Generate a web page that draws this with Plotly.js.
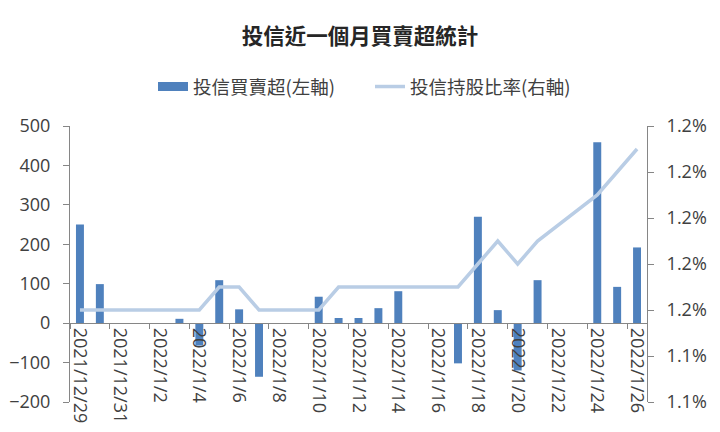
<!DOCTYPE html>
<html>
<head>
<meta charset="utf-8">
<script src="https://cdn.plot.ly/plotly-3.0.1.min.js"></script>
<style>
  html, body { margin: 0; padding: 0; background: #fff; }
  #grafico { width: 720px; height: 432px; }
</style>
</head>
<body>
<div id="grafico"></div>
<script>
// fechas de negociación (sin fines de semana ni feriados)
const fechas = ['2021-12-29', '2021-12-30', '2022-01-03', '2022-01-04', '2022-01-05',
    '2022-01-06', '2022-01-07', '2022-01-10', '2022-01-11', '2022-01-12',
    '2022-01-13', '2022-01-14', '2022-01-17', '2022-01-18', '2022-01-19',
    '2022-01-20', '2022-01-21', '2022-01-24', '2022-01-25', '2022-01-26'];

// 投信買賣超 (張)
const compraVentaNeta = [250, 99, 11, -57, 109, 35, -136, 67, 13, 13,
    38, 81, -102, 270, 33, -120, 109, 459, 92, 192];

// 投信持股比率 (%)
const tenencia = [1.150, 1.150, 1.150, 1.150, 1.155, 1.155, 1.150, 1.150, 1.155, 1.155,
    1.155, 1.155, 1.155, 1.160, 1.165, 1.160, 1.165, 1.175, 1.180, 1.185];

// eje derecho
const ticksDerecha = [1.13, 1.14, 1.15, 1.16, 1.17, 1.18, 1.19];
const etiquetasDerecha = ['1.1%', '1.1%', '1.2%', '1.2%', '1.2%', '1.2%', '1.2%'];

const fuente = '"Noto Sans CJK TC", "Noto Sans", sans-serif';
const fuenteNum = '"Open Sans", "Noto Sans CJK TC", sans-serif';
const gris = '#868686';
const azul = '#4F81BD';
const unDia = 864e5;

var trace1 = {
    x: fechas,
    y: compraVentaNeta,
    type: 'bar',
    name: '投信買賣超(左軸)',
    width: 0.4 * unDia,
    marker: { color: azul },
    showlegend: false,
    yaxis: 'y'
};

// solo para la leyenda: rectángulo ancho como en Excel
var traceLeyenda = {
    x: [null],
    y: [null],
    type: 'scatter',
    mode: 'lines',
    name: '投信買賣超(左軸)',
    line: { color: azul, width: 9 },
    yaxis: 'y'
};

var trace2 = {
    x: fechas,
    y: tenencia,
    type: 'scatter',
    mode: 'lines',
    name: '投信持股比率(右軸)',
    line: { color: '#B9CDE5', width: 3.5 },
    yaxis: 'y2'
};

var layout = {
    width: 720,
    height: 432,
    margin: { l: 70, r: 73, t: 126, b: 30 },
    paper_bgcolor: '#fff',
    plot_bgcolor: '#fff',
    font: { family: fuente, color: '#404040', size: 17 },
    showlegend: true,
    title: {
        text: '<b>投信近一個月買賣超統計</b>',
        font: { family: fuente, size: 21.5, color: '#262626' },
        x: 0.5, xref: 'container', xanchor: 'center',
        y: 1 - 36 / 432, yref: 'container', yanchor: 'middle'
    },
    legend: {
        orientation: 'h',
        xref: 'container', x: 153 / 720, xanchor: 'left',
        yref: 'container', y: 1 - 87 / 432, yanchor: 'middle',
        font: { family: fuente, size: 18.5, color: '#404040' },
        traceorder: 'normal',
        entrywidth: 172
    },
    xaxis: {
        type: 'date',
        range: ['2021-12-28 12:00', '2022-01-26 12:00'],
        anchor: 'free',
        position: 2 / 7,
        showline: true,
        linecolor: gris,
        linewidth: 1,
        showgrid: false,
        zeroline: false,
        tick0: '2021-12-29',
        dtick: 2 * unDia,
        tickformat: '%Y/%-m/%-d',
        tickangle: 90,
        ticks: 'outside',
        ticklen: 0,
        minor: {
            tick0: '2021-12-28 12:00',
            dtick: 2 * unDia,
            ticks: 'outside',
            ticklen: 5,
            tickcolor: gris,
            showgrid: false
        },
        tickfont: { family: fuenteNum, size: 18, color: '#404040' }
    },
    yaxis: {
        range: [-200, 500],
        dtick: 100,
        showline: true,
        linecolor: gris,
        showgrid: false,
        zeroline: false,
        ticks: 'outside',
        ticklen: 6,
        tickcolor: gris,
        ticklabelstandoff: 9,
        tickfont: { family: fuenteNum, size: 18, color: '#404040' }
    },
    yaxis2: {
        overlaying: 'y',
        side: 'right',
        range: [1.13, 1.19],
        tickvals: ticksDerecha,
        ticktext: etiquetasDerecha,
        showline: true,
        linecolor: gris,
        showgrid: false,
        zeroline: false,
        ticks: 'outside',
        ticklen: 6,
        tickcolor: gris,
        ticklabelstandoff: 9,
        tickfont: { family: fuenteNum, size: 18, color: '#404040' }
    },
    annotations: [{
        text: '張',
        xref: 'container', x: 37 / 720, xanchor: 'center',
        yref: 'container', y: 1 - 88 / 432, yanchor: 'middle',
        showarrow: false,
        font: { family: fuente, size: 16, color: '#404040' }
    }]
};

Plotly.newPlot('grafico', [trace1, traceLeyenda, trace2], layout, { staticPlot: true });
</script>
</body>
</html>
